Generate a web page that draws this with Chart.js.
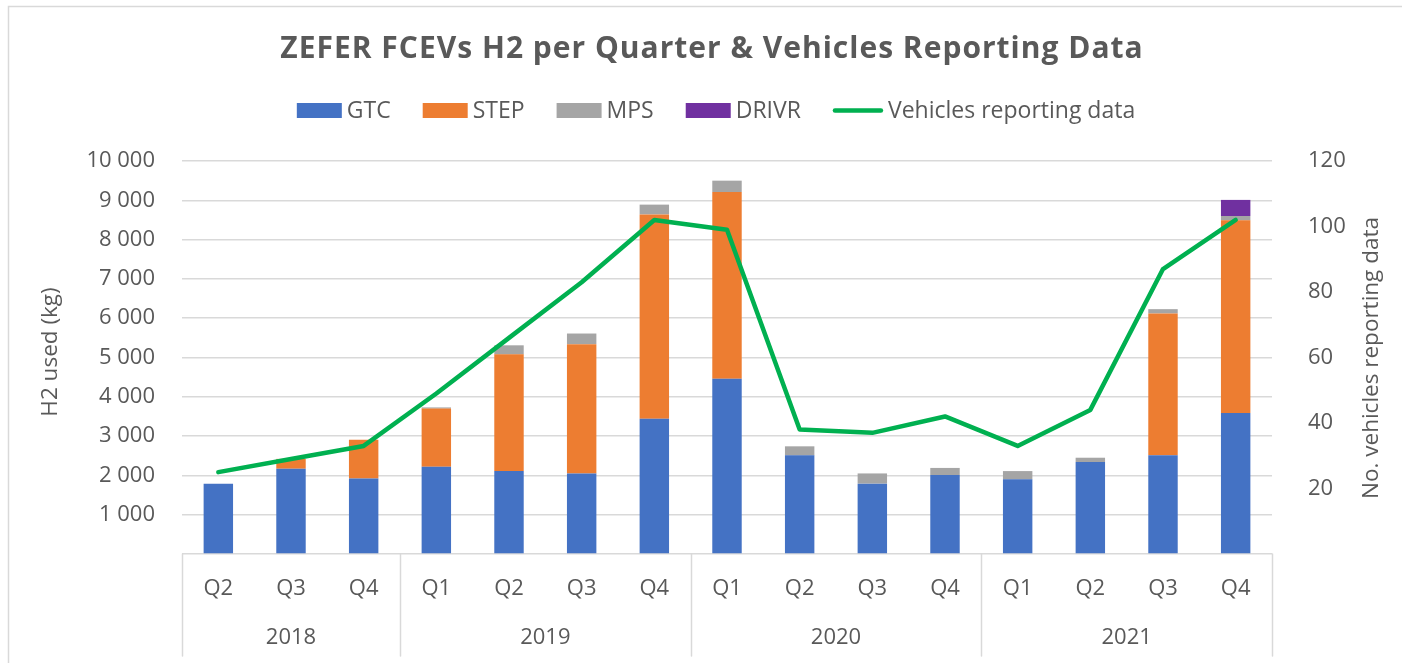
<!DOCTYPE html>
<html>
<head>
<meta charset="utf-8">
<title>ZEFER FCEVs H2 per Quarter</title>
<script src="https://cdn.jsdelivr.net/npm/chart.js@4.4.0/dist/chart.umd.min.js"></script>
<style>
  html, body { margin: 0; padding: 0; background: #ffffff; }
  #wrap { width: 1402px; height: 663px; }
</style>
</head>
<body>
<div id="wrap"><canvas id="myChart" width="1402" height="663"></canvas></div>
<script>
// categories (two levels: quarter / year)
var quarters = ['Q2', 'Q3', 'Q4', 'Q1', 'Q2', 'Q3', 'Q4', 'Q1', 'Q2', 'Q3', 'Q4', 'Q1', 'Q2', 'Q3', 'Q4'];
var years = ['2018', '2018', '2018', '2019', '2019', '2019', '2019', '2020', '2020', '2020', '2020', '2021', '2021', '2021', '2021'];

// H2 used (kg) per operator
var gtc = [1790, 2170, 1920, 2220, 2110, 2050, 3440, 4460, 2510, 1790, 2010, 1900, 2340, 2510, 3590];
var step = [0, 250, 990, 1480, 2970, 3290, 5200, 4750, 0, 0, 0, 0, 0, 3610, 4900];
var mps = [0, 0, 0, 30, 230, 270, 250, 290, 230, 260, 180, 210, 110, 110, 110];
var drivr = [0, 0, 0, 0, 0, 0, 0, 0, 0, 0, 0, 0, 0, 0, 410];

// vehicles reporting data (right axis)
var vehicles = [25, 29, 33, 49, 66, 83, 102, 99, 38, 37, 42, 33, 44, 87, 102];

// axis ranges
var leftMax = 10000, leftStep = 1000;
var rightMax = 120, rightStep = 20;

var chartTitle = 'ZEFER FCEVs H2 per Quarter & Vehicles Reporting Data';
var leftTitle = 'H2 used (kg)';
var rightTitle = 'No. vehicles reporting data';

var FONT = '"Open Sans", Lato, sans-serif';
var GREY = '#595959';
var GRID = '#D9D9D9';

function spaced(v) {
    return String(v).replace(/\B(?=(\d{3})+(?!\d))/g, ' ');
}

// excel style bits: frame, title, legend, axis titles, year row
var excelBits = {
    id: 'excelBits',
    beforeDraw: function (chart) {
        var c = chart.ctx;
        c.save();
        c.strokeStyle = GRID;
        c.lineWidth = 1.5;
        c.strokeRect(8.5, 6.5, 1500, 800);
        c.restore();
    },
    afterDraw: function (chart) {
        var c = chart.ctx;
        var area = chart.chartArea;
        var x = chart.scales.x;
        c.save();

        // title
        c.fillStyle = GREY;
        c.font = 'bold 30px ' + FONT;
        c.letterSpacing = '1px';
        c.textAlign = 'center';
        c.textBaseline = 'alphabetic';
        c.fillText(chartTitle, 712, 58);
        c.letterSpacing = '0px';

        // legend
        c.font = '23px ' + FONT;
        var items = chart.data.datasets.map(function (ds) {
            var isLine = ds.type === 'line';
            return {
                label: ds.label,
                color: isLine ? ds.borderColor : ds.backgroundColor,
                line: isLine,
                mark: isLine ? 50 : 45,
                w: c.measureText(ds.label).width
            };
        });
        var total = 0;
        items.forEach(function (it, i) { total += it.mark + 5 + it.w + (i ? 32 : 0); });
        var lx = 716 - total / 2;
        c.textAlign = 'left';
        items.forEach(function (it) {
            if (it.line) {
                c.strokeStyle = it.color;
                c.lineWidth = 4.5;
                c.lineCap = 'round';
                c.beginPath();
                c.moveTo(lx + 2, 110.5);
                c.lineTo(lx + it.mark - 2, 110.5);
                c.stroke();
            } else {
                c.fillStyle = it.color;
                c.fillRect(lx, 103, it.mark, 15);
            }
            c.fillStyle = GREY;
            c.fillText(it.label, lx + it.mark + 5, 118);
            lx += it.mark + 5 + it.w + 32;
        });

        // axis titles (both read bottom to top)
        c.font = '22.5px ' + FONT;
        c.textAlign = 'center';
        c.textBaseline = 'middle';
        c.save();
        c.translate(51, 352);
        c.rotate(-Math.PI / 2);
        c.fillText(leftTitle, 0, 0);
        c.restore();
        c.save();
        c.translate(1372, 358);
        c.rotate(-Math.PI / 2);
        c.fillText(rightTitle, 0, 0);
        c.restore();

        // year row and separators below the axis
        var edges = [area.left];
        var groups = [];
        var start = 0;
        for (var i = 1; i <= years.length; i++) {
            if (i === years.length || years[i] !== years[i - 1]) {
                var edge = i === years.length ? area.right : (x.getPixelForValue(i - 1) + x.getPixelForValue(i)) / 2;
                groups.push({ label: years[start], from: edges[edges.length - 1], to: edge });
                edges.push(edge);
                start = i;
            }
        }
        c.strokeStyle = GRID;
        c.lineWidth = 1.5;
        edges.forEach(function (e) {
            c.beginPath();
            c.moveTo(Math.round(e) + 0.5, area.bottom);
            c.lineTo(Math.round(e) + 0.5, 656);
            c.stroke();
        });
        c.fillStyle = GREY;
        c.font = '22px ' + FONT;
        groups.forEach(function (g) {
            c.fillText(g.label, (g.from + g.to) / 2, 638);
        });

        c.restore();
    }
};

var ctx = document.getElementById('myChart').getContext('2d');
var chart = new Chart(ctx, {
    type: 'bar',
    data: {
        labels: quarters,
        datasets: [
            { label: 'GTC', data: gtc, backgroundColor: '#4472C4', yAxisID: 'y', order: 1 },
            { label: 'STEP', data: step, backgroundColor: '#ED7D31', yAxisID: 'y', order: 1 },
            { label: 'MPS', data: mps, backgroundColor: '#A5A5A5', yAxisID: 'y', order: 1 },
            { label: 'DRIVR', data: drivr, backgroundColor: '#7030A0', yAxisID: 'y', order: 1 },
            {
                type: 'line',
                label: 'Vehicles reporting data',
                data: vehicles,
                yAxisID: 'y1',
                borderColor: '#00B050',
                backgroundColor: '#00B050',
                borderWidth: 4.5,
                borderCapStyle: 'round',
                borderJoinStyle: 'round',
                pointRadius: 0,
                tension: 0,
                order: 0
            }
        ]
    },
    options: {
        responsive: false,
        animation: false,
        layout: { padding: { top: 161, left: 0, right: 0, bottom: 0 } },
        datasets: {
            bar: { barPercentage: 0.405, categoryPercentage: 1, stack: 'h2' }
        },
        plugins: {
            legend: { display: false },
            title: { display: false },
            tooltip: { enabled: false }
        },
        scales: {
            x: {
                stacked: true,
                grid: { display: false },
                border: { display: false },
                ticks: {
                    color: GREY,
                    font: { family: FONT, size: 22 },
                    padding: 14,
                    maxRotation: 0,
                    autoSkip: false
                },
                afterFit: function (s) { s.height = 109; }
            },
            y: {
                stacked: true,
                position: 'left',
                min: 0,
                max: leftMax,
                grid: { color: GRID, lineWidth: 1.5, drawTicks: false },
                border: { display: false },
                ticks: {
                    stepSize: leftStep,
                    color: GREY,
                    font: { family: FONT, size: 22 },
                    padding: 27,
                    callback: function (v) { return v === 0 ? '' : spaced(v); }
                },
                afterFit: function (s) { s.width = 182; }
            },
            y1: {
                position: 'right',
                min: 0,
                max: rightMax,
                grid: { drawOnChartArea: false, drawTicks: false },
                border: { display: false },
                ticks: {
                    stepSize: rightStep,
                    color: GREY,
                    font: { family: FONT, size: 22 },
                    padding: 36,
                    callback: function (v) { return v === 0 ? '' : v; }
                },
                afterFit: function (s) { s.width = 130; }
            }
        }
    },
    plugins: [excelBits]
});
</script>
</body>
</html>
